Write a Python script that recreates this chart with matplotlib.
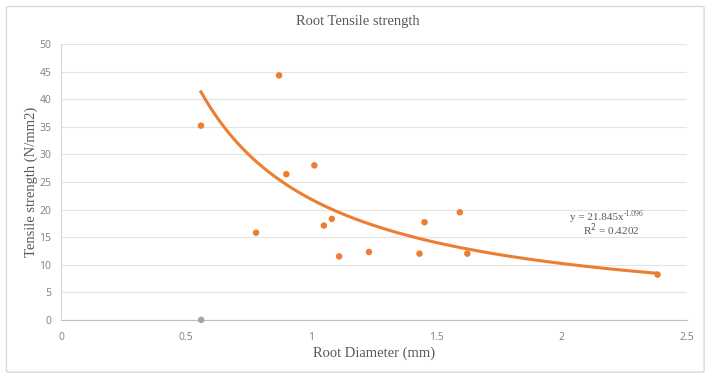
import numpy as np
import matplotlib
matplotlib.use("Agg")
import matplotlib.pyplot as plt
from matplotlib.patches import FancyBboxPatch

# measured roots
diameter = [0.559, 0.871, 0.779, 0.900, 1.012, 1.050, 1.082, 1.111, 1.230, 1.432, 1.452, 1.593, 1.623, 2.383]
strength = [35.2, 44.3, 15.8, 26.4, 28.0, 17.1, 18.3, 11.5, 12.3, 12.0, 17.7, 19.5, 12.0, 8.2]

# second series (zero value)
diameter_zero = [0.56]
strength_zero = [0.0]

# power trendline y = a * x^b
coef_a = 21.845
coef_b = -1.096
r_squared = 0.4202

orange = "#ED7D31"
grey = "#A5A5A5"
tick_color = "#7F7F7F"
text_color = "#595959"
serif = "Liberation Serif"

fig = plt.figure(figsize=(7.12, 3.79), dpi=100)
border = FancyBboxPatch((0.009, 0.018), 0.980, 0.965, boxstyle="round,pad=0,rounding_size=0.004",
                        transform=fig.transFigure, facecolor="white", edgecolor="#D9D9D9", lw=1.0, zorder=-10)
fig.patches.append(border)
ax = fig.add_axes([0.0857, 0.156, 0.879, 0.728])
ax.patch.set_alpha(0)

ax.set_xlim(0, 2.5)
ax.set_ylim(0, 50)
ax.set_xticks(np.arange(0, 2.51, 0.5))
ax.set_yticks(np.arange(0, 51, 5))
ax.set_xticklabels(["0", "0.5", "1", "1.5", "2", "2.5"])
ax.grid(axis="y", color="#E3E3E3", lw=0.8)
ax.set_axisbelow(True)
for s in ["top", "right"]:
    ax.spines[s].set_visible(False)
ax.spines["left"].set_color("#D9D9D9")
ax.spines["bottom"].set_color("#BFBFBF")
ax.tick_params(length=0, colors=tick_color, labelsize=7.5)
ax.tick_params(axis="x", pad=9)
ax.tick_params(axis="y", pad=7)
for lab in ax.get_xticklabels() + ax.get_yticklabels():
    lab.set_fontfamily("Open Sans")

xs = np.linspace(min(diameter), max(diameter), 200)
ax.plot(xs, coef_a * xs ** coef_b, color=orange, lw=2.2, zorder=2)
ax.scatter(diameter, strength, color=orange, s=22, zorder=3, edgecolors="none")
ax.scatter(diameter_zero, strength_zero, color=grey, s=22, zorder=3, edgecolors="none", clip_on=False)

# trendline label (hyphen exponent like the spreadsheet)
ax.text(2.248, 18.5, "y = %.3fx" % coef_a, fontsize=8, color=text_color, ha="right", va="center", family=serif)
ax.annotate("%.3f" % coef_b, (2.248, 18.5), xytext=(0, 3), textcoords="offset points",
            fontsize=5.5, color=text_color, ha="left", va="center", family=serif)
ax.text(2.197, 16.3, "R$^2$ = %.4f" % r_squared, fontsize=8, color=text_color, ha="center", va="center",
        family=serif)

fig.text(0.503, 0.942, "Root Tensile strength", ha="center", va="center", fontsize=10.5,
         color=text_color, family=serif)
ax.set_xlabel("Root Diameter (mm)", fontsize=10.5, color=text_color, family=serif)
ax.set_ylabel("Tensile strength (N/mm2)", fontsize=10.5, color=text_color, family=serif)
ax.xaxis.set_label_coords(0.5, -0.12)
ax.yaxis.set_label_coords(-0.048, 0.5)
ax.xaxis.label.set_va("center")
ax.yaxis.label.set_va("center")

fig.savefig("out.png", dpi=100)
